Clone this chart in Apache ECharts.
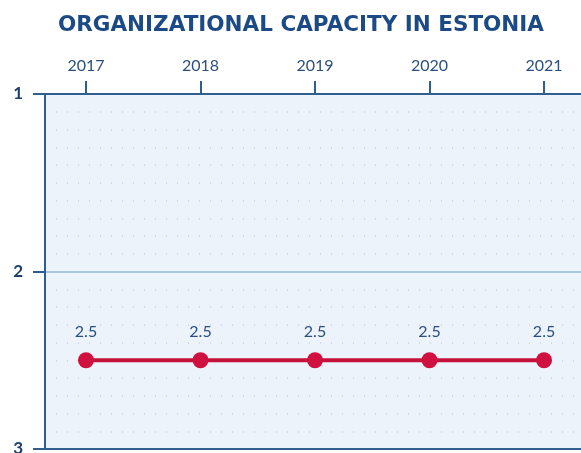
<!DOCTYPE html>
<html><head><meta charset="utf-8">
<script src="https://cdn.jsdelivr.net/npm/echarts@6/dist/echarts.min.js"></script>
<style>html,body{margin:0;padding:0;background:#fff}#c{width:581px;height:453px}</style>
</head><body><div id="c"></div>
<script>
const years = [2017, 2018, 2019, 2020, 2021];
const values = [2.5, 2.5, 2.5, 2.5, 2.5];
const yTicks = [1, 2, 3];
const title = 'ORGANIZATIONAL CAPACITY IN ESTONIA';

const axisBlue = '#2f5f8f';
const textBlue = '#2b4f7e';
const chart = echarts.init(document.getElementById('c'), null, {renderer: 'canvas'});
chart.setOption({
  animation: false,
  title: {
    text: title, left: 53, top: 9,
    textStyle: {fontFamily: 'DejaVu Sans', fontWeight: 'bold', fontSize: 21.5, color: '#1b4a86'}
  },
  grid: {left: 45, top: 94, right: 0, bottom: 4, outerBoundsMode: 'none', containLabel: false,
         show: true, backgroundColor: '#edf3fb', borderWidth: 0},
  xAxis: {
    type: 'value', position: 'top', min: 2016.642, max: 2021.323,
    axisLine: {show: true, onZero: false, lineStyle: {color: axisBlue, width: 2}},
    axisTick: {show: true, length: 13, customValues: years, lineStyle: {color: axisBlue, width: 2}},
    axisLabel: {customValues: years, margin: 20, fontFamily: 'Lato', fontSize: 16, color: textBlue, formatter: v => String(v)},
    splitLine: {show: false}
  },
  yAxis: {
    type: 'value', inverse: true, min: 1, max: 3, interval: 1,
    axisLine: {show: true, lineStyle: {color: axisBlue, width: 2}},
    axisTick: {show: true, length: 12, lineStyle: {color: axisBlue, width: 2}},
    axisLabel: {margin: 22, fontFamily: 'Lato', fontWeight: 'bold', fontSize: 17, color: '#1d3f6e'},
    splitLine: {show: true, showMinLine: true, showMaxLine: true, lineStyle: {color: [axisBlue, '#a9c6e3', axisBlue], width: 2}},
    minorTick: {show: false, splitNumber: 10},
    minorSplitLine: {show: true, lineStyle: {color: '#c9d3de', type: [1, 10], width: 1.5}}
  },
  series: [{
    type: 'line',
    data: years.map((y, i) => [y, values[i]]),
    symbol: 'circle', symbolSize: 16,
    lineStyle: {color: '#c4123a', width: 4},
    itemStyle: {color: '#d0103f'},
    label: {show: true, position: 'top', distance: 12, fontFamily: 'Lato', fontSize: 16, color: textBlue, formatter: p => p.value[1].toFixed(1)}
  }]
});
</script></body></html>
